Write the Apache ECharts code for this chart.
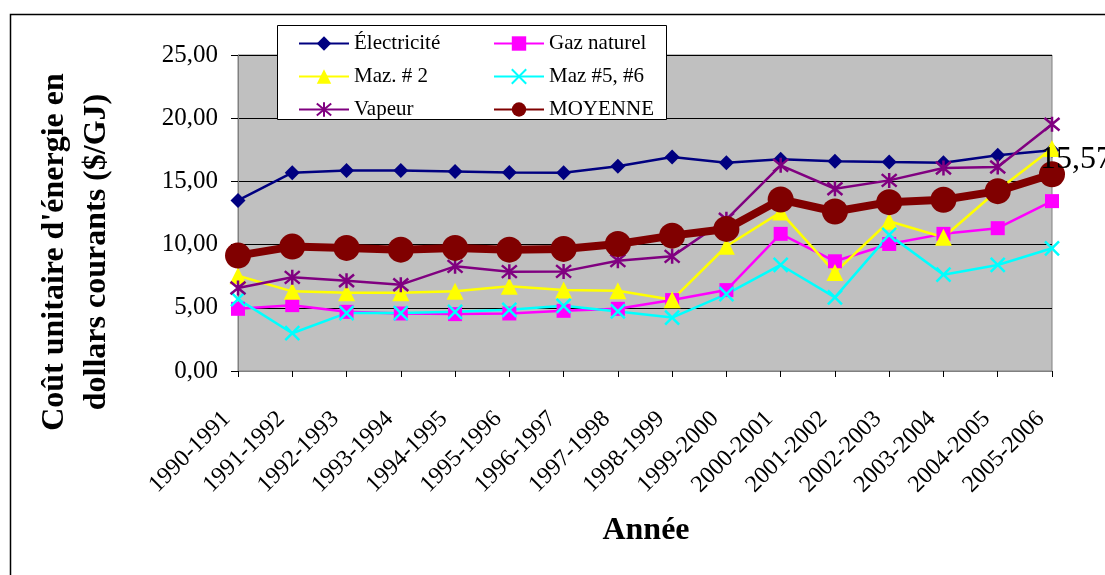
<!DOCTYPE html>
<html>
<head>
<meta charset="utf-8">
<script src="https://cdn.jsdelivr.net/npm/echarts@6/dist/echarts.min.js"></script>
<style>
  html, body { margin: 0; padding: 0; background: #fff; }
  #chart { width: 1105px; height: 575px; }
</style>
</head>
<body>
<div id="chart"></div>
<script>
const categories = ['1990-1991', '1991-1992', '1992-1993', '1993-1994', '1994-1995', '1995-1996',
  '1996-1997', '1997-1998', '1998-1999', '1999-2000', '2000-2001', '2001-2002',
  '2002-2003', '2003-2004', '2004-2005', '2005-2006']

const electricite = [13.49, 15.69, 15.87, 15.87, 15.79, 15.71, 15.69, 16.20, 16.93, 16.48, 16.75, 16.59, 16.53, 16.48, 17.06, 17.46]
const gazNaturel = [4.92, 5.21, 4.68, 4.55, 4.50, 4.55, 4.76, 4.92, 5.61, 6.40, 10.85, 8.68, 10.05, 10.85, 11.30, 13.44]
const maz2 = [7.54, 6.30, 6.20, 6.20, 6.30, 6.70, 6.40, 6.35, 5.63, 9.87, 12.57, 7.80, 11.85, 10.58, 14.30, 17.60]
const maz56 = [5.69, 2.99, 4.58, 4.58, 4.68, 4.84, 5.16, 4.71, 4.23, 6.08, 8.39, 5.82, 10.77, 7.62, 8.39, 9.71]
const vapeur = [6.56, 7.41, 7.14, 6.83, 8.28, 7.86, 7.88, 8.73, 9.07, 12.00, 16.27, 14.42, 15.08, 16.06, 16.14, 19.52]
const moyenne = [9.13, 9.84, 9.74, 9.60, 9.74, 9.60, 9.66, 10.05, 10.71, 11.24, 13.57, 12.62, 13.36, 13.55, 14.23, 15.57]

const yTicks = [0, 5, 10, 15, 20, 25]

const FONT = "'Liberation Serif', 'Times New Roman', serif"
const fmt = (v) => Number(v).toFixed(2).replace('.', ',')

// X et astérisque (symboles Excel)
const crossPath = 'path://M0,0L10,10M10,0L0,10'
const starPath = 'path://M0,0L10,10M10,0L0,10M5,-1L5,11'

const mkLine = (name, data, color, symbol, size, width, extra) => Object.assign({
  name: name,
  type: 'line',
  data: data,
  symbol: symbol,
  symbolSize: size,
  showAllSymbol: true,
  animation: false,
  lineStyle: { color: color, width: width },
  itemStyle: { color: color, borderColor: color, borderWidth: 0 }
}, extra || {})

const moyenneData = moyenne.map((v, i) => i === moyenne.length - 1
  ? {
      value: v,
      label: {
        show: true,
        position: 'right',
        distance: 0,
        offset: [-25, -15],
        formatter: (p) => fmt(p.value),
        fontFamily: FONT,
        fontSize: 32,
        color: '#000'
      }
    }
  : v)

const legendText = { fontFamily: FONT, fontSize: 21, color: '#000', lineHeight: 18 }

const chart = echarts.init(document.getElementById('chart'))
chart.setOption({
  animation: false,
  textStyle: { fontFamily: FONT },
  grid: {
    left: 238,
    right: 53,
    top: 55,
    bottom: 204,
    show: true,
    backgroundColor: '#c0c0c0',
    borderColor: '#808080',
    borderWidth: 1
  },
  legend: [
    {
      orient: 'vertical',
      left: 293,
      top: 28,
      itemWidth: 50,
      itemHeight: 18,
      itemGap: 12,
      textStyle: legendText,
      data: ['Électricité', 'Maz. # 2', 'Vapeur'],
      z: 5
    },
    {
      orient: 'vertical',
      left: 488,
      top: 28,
      itemWidth: 50,
      itemHeight: 18,
      itemGap: 12,
      textStyle: legendText,
      data: ['Gaz naturel', 'Maz #5, #6', 'MOYENNE'],
      z: 5
    }
  ],
  xAxis: {
    type: 'category',
    data: categories,
    boundaryGap: false,
    axisLine: { lineStyle: { color: '#808080', width: 1 } },
    axisTick: { show: true, alignWithLabel: true, length: 6, lineStyle: { color: '#000' } },
    axisLabel: {
      interval: 0,
      rotate: 45,
      margin: 33,
      padding: [0, 16, 0, 0],
      fontFamily: FONT,
      fontSize: 24,
      color: '#000'
    },
    splitLine: { show: false }
  },
  yAxis: {
    type: 'value',
    min: yTicks[0],
    max: yTicks[yTicks.length - 1],
    interval: 5,
    axisLine: { show: true, lineStyle: { color: '#808080', width: 1 } },
    axisTick: { show: true, length: 7, lineStyle: { color: '#000' } },
    axisLabel: {
      formatter: fmt,
      margin: 20,
      fontFamily: FONT,
      fontSize: 25,
      color: '#000'
    },
    splitLine: { show: true, lineStyle: { color: '#000', width: 1 } }
  },
  graphic: [
    {
      type: 'rect',
      left: 8,
      top: 12,
      shape: { width: 1200, height: 700 },
      style: { fill: 'none', stroke: '#000', lineWidth: 1.5 },
      z: -10,
      silent: true
    },
    {
      type: 'rect',
      shape: { x: 277.5, y: 25.5, width: 389, height: 94 },
      style: { fill: '#fff', stroke: '#000', lineWidth: 1 },
      z: 3,
      silent: true
    },
    {
      type: 'text',
      x: 76,
      y: 252,
      rotation: Math.PI / 2,
      style: {
        text: "Coût unitaire d'énergie en\ndollars courants ($/GJ)",
        font: 'bold 32px ' + FONT,
        fill: '#000',
        align: 'center',
        verticalAlign: 'middle',
        lineHeight: 42
      }
    },
    {
      type: 'text',
      x: 646,
      y: 531,
      style: {
        text: 'Année',
        font: 'bold 32px ' + FONT,
        fill: '#000',
        align: 'center',
        verticalAlign: 'middle'
      }
    }
  ],
  series: [
    mkLine('Électricité', electricite, '#000080', 'diamond', 15, 2.5),
    mkLine('Gaz naturel', gazNaturel, '#ff00ff', 'rect', 14, 2.5),
    mkLine('Maz. # 2', maz2, '#ffff00', 'triangle', 17, 2.5),
    mkLine('Maz #5, #6', maz56, '#00ffff', crossPath, 14, 2.5, {
      itemStyle: { color: 'none', borderColor: '#00ffff', borderWidth: 2.5 }
    }),
    mkLine('Vapeur', vapeur, '#800080', starPath, 15, 2.5, {
      itemStyle: { color: 'none', borderColor: '#800080', borderWidth: 2.5 }
    }),
    mkLine('MOYENNE', moyenneData, '#800000', 'circle', 26, 8)
  ]
})
</script>
</body>
</html>
